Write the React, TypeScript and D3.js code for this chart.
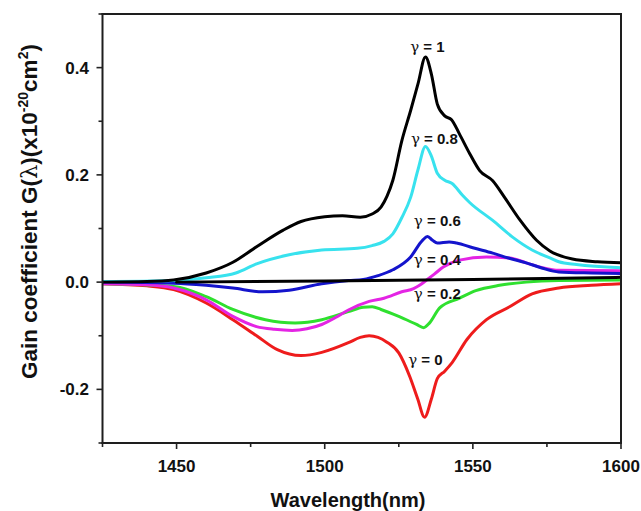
import React from "react";
import * as d3 from "d3";

type Pt = [number, number];

const gamma1: Pt[] = [[1425,0],[1440,0.001],[1449,0.004],[1460,0.017],[1469,0.037],[1477,0.066],[1486,0.097],[1492,0.113],[1500,0.122],[1506,0.124],[1512,0.121],[1516,0.127],[1519,0.14],[1521,0.16],[1523,0.19],[1526,0.263],[1529,0.32],[1531.5,0.37],[1534,0.42],[1536,0.388],[1538,0.332],[1540.5,0.31],[1542.8,0.303],[1545.5,0.276],[1549,0.239],[1552.3,0.208],[1556.7,0.189],[1560.7,0.158],[1566,0.115],[1571.5,0.078],[1576,0.058],[1583.6,0.043],[1592,0.038],[1600,0.036]];
const gamma08: Pt[] = [[1425,0.001],[1449,0.003],[1460,0.008],[1470,0.017],[1477,0.034],[1488,0.051],[1499,0.06],[1511,0.063],[1516,0.068],[1520,0.076],[1523,0.09],[1526,0.12],[1529,0.158],[1531.5,0.21],[1534,0.253],[1536,0.235],[1538,0.203],[1540.5,0.19],[1543,0.184],[1546.5,0.162],[1549,0.148],[1556.7,0.115],[1563.4,0.084],[1570,0.06],[1576,0.045],[1579,0.038],[1585,0.033],[1600,0.027]];
const gamma06: Pt[] = [[1425,0],[1449,-0.002],[1460,-0.006],[1469,-0.011],[1479,-0.018],[1488,-0.015],[1499,-0.003],[1508,0.003],[1513,0.005],[1518,0.012],[1523,0.023],[1529,0.047],[1533,0.078],[1534.7,0.085],[1536.4,0.078],[1538,0.073],[1542,0.075],[1544.5,0.073],[1550,0.064],[1556.7,0.054],[1562,0.045],[1568,0.036],[1573.5,0.026],[1579,0.019],[1590,0.017],[1600,0.016]];
const gamma04: Pt[] = [[1425,-0.003],[1440,-0.005],[1449,-0.011],[1460,-0.033],[1469,-0.064],[1477,-0.083],[1483,-0.088],[1489,-0.09],[1494,-0.087],[1499,-0.079],[1504,-0.065],[1508,-0.052],[1515,-0.036],[1520,-0.03],[1526,-0.018],[1530,-0.012],[1532,-0.006],[1534.4,0.004],[1537,0.015],[1540,0.028],[1545.5,0.041],[1554.6,0.047],[1562.4,0.045],[1568,0.036],[1573.5,0.027],[1579,0.022],[1600,0.021]];
const gamma02: Pt[] = [[1425,-0.003],[1449,-0.008],[1460,-0.027],[1469,-0.051],[1480,-0.07],[1490,-0.076],[1499,-0.07],[1508,-0.055],[1513,-0.047],[1516,-0.046],[1519,-0.051],[1525,-0.064],[1531,-0.079],[1533.4,-0.085],[1535.4,-0.076],[1538.8,-0.048],[1545.5,-0.03],[1551,-0.016],[1559,-0.006],[1568,0],[1579,0.003],[1600,0.004]];
const gamma0: Pt[] = [[1425,-0.003],[1440,-0.007],[1449,-0.014],[1460,-0.039],[1469,-0.07],[1477,-0.1],[1484,-0.126],[1492,-0.137],[1499,-0.131],[1508,-0.113],[1512,-0.103],[1515,-0.1],[1518,-0.103],[1521,-0.112],[1525,-0.132],[1528.7,-0.176],[1531.4,-0.218],[1533.7,-0.252],[1536,-0.218],[1538,-0.18],[1540.5,-0.166],[1543,-0.15],[1548,-0.107],[1554.6,-0.07],[1562.4,-0.046],[1570,-0.022],[1579,-0.011],[1590,-0.006],[1600,-0.003]];
const baseline: Pt[] = [[1450,0],[1500,0.002],[1550,0.005],[1600,0.009]];

const xMajor = [1450, 1500, 1550, 1600];
const xMinor = [1425, 1475, 1525, 1575];
const yMajor = [0.4, 0.2, 0.0, -0.2];
const yMinor = [0.5, 0.3, 0.1, -0.1, -0.3];

const series = [
  { data: gamma0, color: "#ee1c1c" },
  { data: gamma02, color: "#2fe02f" },
  { data: gamma04, color: "#e424e4" },
  { data: gamma06, color: "#1414cc" },
  { data: gamma08, color: "#38e2ee" },
  { data: gamma1, color: "#000000" },
  { data: baseline, color: "#000000" },
];

const labels = [
  { value: "1", x: 1534, y: 0.43, dx: 2 },
  { value: "0.8", x: 1537, y: 0.258, dx: 0 },
  { value: "0.6", x: 1538, y: 0.104, dx: 0 },
  { value: "0.4", x: 1538, y: 0.032, dx: 0 },
  { value: "0.2", x: 1538, y: -0.031, dx: 0 },
  { value: "0", x: 1535, y: -0.155, dx: -3 },
];

export default function App() {
  const W = 641, H = 511;
  const left = 102.5, right = 621, top = 14, bottom = 443;
  const x = d3.scaleLinear().domain([1425, 1600]).range([left, right]);
  const y = d3.scaleLinear().domain([-0.3, 0.5]).range([bottom, top]);
  const line = d3.line<Pt>().x(d => x(d[0])).y(d => y(d[1])).curve(d3.curveMonotoneX);
  const font = "Liberation Sans, Arial, sans-serif";
  const axisColor = "#222";

  return (
    <svg width={W} height={H} style={{ position: "absolute", left: 0, top: 0, background: "#fff" }} fontFamily={font}>
      <defs>
        <clipPath id="plot"><rect x={left} y={top} width={right - left} height={bottom - top} /></clipPath>
      </defs>
      <g clipPath="url(#plot)">
        {series.map((s, i) => (
          <path key={i} d={line(s.data) || ""} fill="none" stroke={s.color} strokeWidth={3} strokeLinejoin="round" strokeLinecap="round" />
        ))}
      </g>
      {/* frame */}
      <rect x={left - 1} y={top - 1} width={right - left + 2} height={2} fill="#1e1e1e" />
      <rect x={right - 1} y={top - 1} width={2} height={bottom - top + 2} fill="#1e1e1e" />
      <rect x={left - 1} y={top - 1} width={2} height={bottom - top + 2} fill="#1e1e1e" />
      <rect x={left - 1} y={bottom - 1} width={right - left + 2} height={2} fill="#1e1e1e" />
      {/* x ticks */}
      {xMajor.map(v => (
        <g key={"xM" + v}>
          <line x1={x(v)} x2={x(v)} y1={bottom} y2={bottom + 6} stroke={axisColor} strokeWidth={1.6} />
          <text x={x(v)} y={472} textAnchor="middle" fontSize={17} fontWeight="bold" fill="#111">{v}</text>
        </g>
      ))}
      {xMinor.map(v => (
        <line key={"xm" + v} x1={x(v)} x2={x(v)} y1={bottom} y2={bottom + 4} stroke={axisColor} strokeWidth={1.6} />
      ))}
      {/* y ticks */}
      {yMajor.map(v => (
        <g key={"yM" + v}>
          <line x1={left - 6} x2={left} y1={y(v)} y2={y(v)} stroke={axisColor} strokeWidth={1.6} />
          <text x={89} y={y(v) + 6} textAnchor="end" fontSize={17} fontWeight="bold" fill="#111">{v.toFixed(1)}</text>
        </g>
      ))}
      {yMinor.map(v => (
        <line key={"ym" + v} x1={left - 4} x2={left} y1={y(v)} y2={y(v)} stroke={axisColor} strokeWidth={1.6} />
      ))}
      {/* curve labels */}
      {labels.map((l, i) => (
        <text key={i} x={x(l.x) + l.dx} y={y(l.y)} textAnchor="middle" fontSize={15} fontWeight="bold" fill="#111">
          <tspan fontFamily="DejaVu Serif, serif" fontWeight="normal">γ</tspan>{" = " + l.value}
        </text>
      ))}
      {/* axis titles */}
      <text x={348} y={507} textAnchor="middle" fontSize={20} fontWeight="bold" fill="#111">Wavelength(nm)</text>
      <text transform={`translate(37,${211.5}) rotate(-90)`} textAnchor="middle" fontSize={22.5} fontWeight="bold" fill="#111">
        Gain coefficient G(<tspan fontWeight="normal" fontFamily="DejaVu Serif, serif">λ</tspan>)(x10<tspan fontSize={14} dy={-9}>-20</tspan><tspan dy={9}>cm</tspan><tspan fontSize={14} dy={-9}>2</tspan><tspan dy={9}>)</tspan>
      </text>
    </svg>
  );
}
